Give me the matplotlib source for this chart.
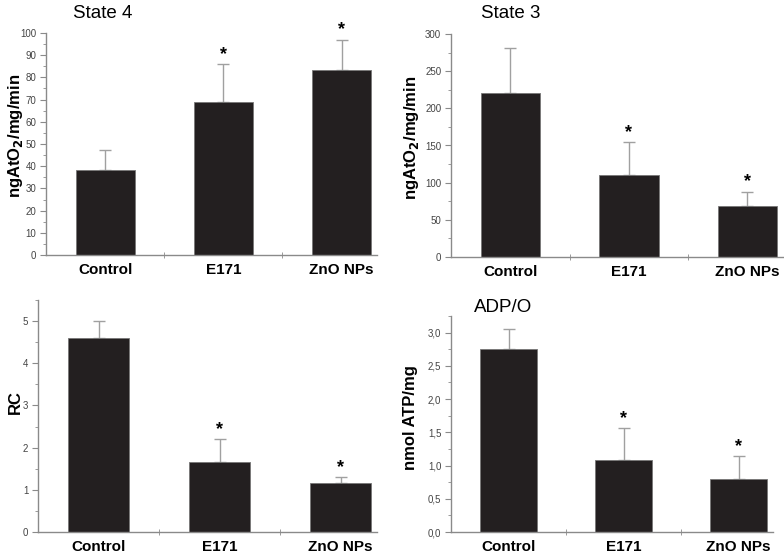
import numpy as np
import matplotlib.pyplot as plt
from matplotlib.ticker import MultipleLocator, FuncFormatter

plt.rcParams['font.family'] = ['Liberation Sans', 'DejaVu Sans']

groups = ['Control', 'E171', 'ZnO NPs']

state4 = [38.5, 69.0, 83.5]
state4_err = [9.0, 17.0, 13.5]

state3 = [220.0, 110.0, 69.0]
state3_err = [61.0, 45.0, 19.0]

rc = [4.6, 1.67, 1.15]
rc_err = [0.4, 0.53, 0.15]

adpo = [2.75, 1.09, 0.80]
adpo_err = [0.30, 0.47, 0.34]

signif = [False, True, True]

bar_col = '#231f20'
gray = '#8a8a8a'

W, H = 784, 555
fig = plt.figure(figsize=(W / 100, H / 100), dpi=100)


def px_rect(left, right, bottom, top):
    return [left / W, 1 - bottom / H, (right - left) / W, (bottom - top) / H]


def panel(box, vals, errs, ylim, major, minor, ylabel, label_xy,
          title=None, title_xy=None, comma=False):
    ax = fig.add_axes(px_rect(*box))
    x = np.arange(len(groups))
    ax.bar(x, vals, width=0.5, color=bar_col, edgecolor='#777777', linewidth=0.6, zorder=2)
    ax.errorbar(x, vals, yerr=[np.zeros(len(vals)), errs], fmt='none',
                ecolor='#a0a0a0', elinewidth=1.0, capsize=4, capthick=1.0, zorder=1)
    span = ylim[1] - ylim[0]
    for xi, v, e, s in zip(x, vals, errs, signif):
        if s:
            ax.text(xi, v + e + span * 0.005, '*', ha='center', va='bottom',
                    fontsize=13, fontweight='bold')
    ax.set_ylim(*ylim)
    ax.set_xlim(-0.5, 2.3)
    ax.yaxis.set_major_locator(MultipleLocator(major))
    ax.yaxis.set_minor_locator(MultipleLocator(minor))
    if comma:
        ax.yaxis.set_major_formatter(FuncFormatter(lambda v, p: ('%.1f' % v).replace('.', ',')))
    ax.set_xticks(x)
    ax.set_xticklabels(groups, fontsize=11, fontweight='bold')
    ax.set_xticks([0.5, 1.5], minor=True)
    ax.tick_params(axis='x', which='major', length=0, pad=6)
    ax.tick_params(axis='x', which='minor', length=5, direction='inout', color=gray)
    ax.tick_params(axis='y', which='major', length=4, color=gray, labelsize=7,
                   labelcolor='#444444', pad=3)
    ax.tick_params(axis='y', which='minor', length=2, color=gray)
    for sp in ['top', 'right']:
        ax.spines[sp].set_visible(False)
    for sp in ['left', 'bottom']:
        ax.spines[sp].set_color(gray)
        ax.spines[sp].set_linewidth(1.0)
    ax.set_ylabel(ylabel, fontsize=12, fontweight='bold', va='center')
    ax.yaxis.set_label_coords(*label_xy)
    if title:
        fig.text(title_xy[0] / W, 1 - title_xy[1] / H, title, fontsize=13.5,
                 ha='left', va='baseline')
    return ax


panel((46, 377, 255, 33), state4, state4_err, (0, 100), 10, 5,
      r'ngAtO$_\mathbf{2}$/mg/min', (-0.093, 0.536), 'State 4', (73, 18))
panel((451, 783, 257, 34), state3, state3_err, (0, 300), 50, 25,
      r'ngAtO$_\mathbf{2}$/mg/min', (-0.118, 0.534), 'State 3', (481, 18))
panel((38, 377, 532, 300), rc, rc_err, (0, 5.5), 1, 0.5,
      'RC', (-0.068, 0.56))
panel((451, 773, 532, 316), adpo, adpo_err, (0, 3.25), 0.5, 0.25,
      'nmol ATP/mg', (-0.126, 0.528), 'ADP/O', (474, 312), comma=True)

fig.savefig('out.png', dpi=100)
